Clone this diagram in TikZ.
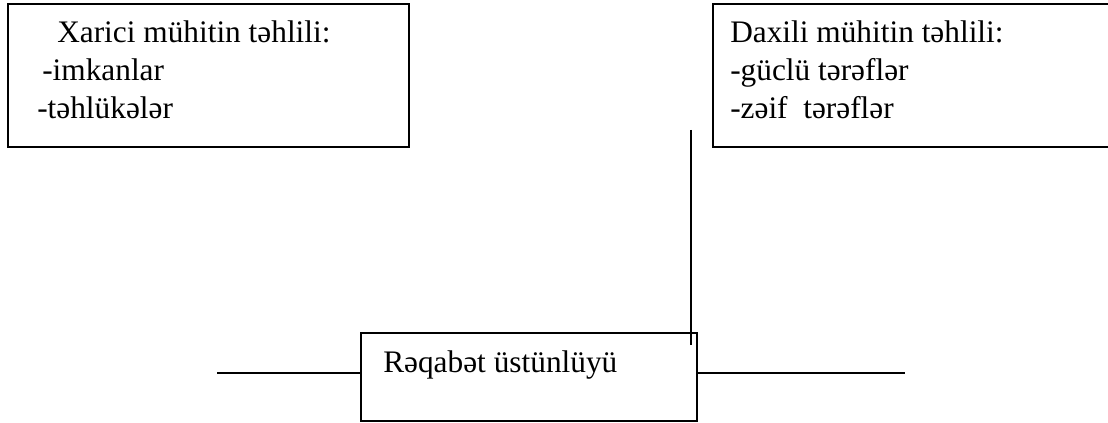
\documentclass[tikz,border=0pt]{standalone}
\usepackage{fontspec}
\setmainfont{Liberation Serif}
\begin{document}
\begin{tikzpicture}[x=0.75pt,y=-0.75pt,
  box/.style={draw,line width=1.3pt,rectangle,inner sep=0pt},
  lbl/.style={anchor=base west,inner sep=0pt,font=\fontsize{23.5}{28}\selectfont},
  conn/.style={line width=1.3pt}]
\useasboundingbox (0,0) rectangle (1108,423);
% boxes
\node[box,minimum width=300.75pt,minimum height=107.25pt] (ext) at (208.5,75.5) {};
\node[box,minimum width=300.75pt,minimum height=107.25pt] (int) at (913.5,75.5) {};
\node[box,minimum width=252pt,minimum height=66pt] (adv) at (529,377) {};
% texts
\node[lbl] (e1) at (57,43) {Xarici mühitin təhlili:};
\node[lbl] (e2) at (42,81) {-imkanlar};
\node[lbl] (e3) at (37,119) {-təhlükələr};
\node[lbl] (i1) at (730,43) {Daxili mühitin təhlili:};
\node[lbl] (i2) at (730,81) {-güclü tərəflər};
\node[lbl] (i3) at (730,119) {-zəif\ \ tərəflər};
\node[lbl] (a1) at (383,373) {Rəqabət üstünlüyü};
% connectors
\coordinate (L) at (217,373);
\coordinate (R) at (905,373);
\coordinate (V1) at (691,130);
\coordinate (V2) at (691,345);
\draw[conn] (L) -- (L -| adv.west);
\draw[conn] (R -| adv.east) -- (R);
\draw[conn] (V1) -- (V2);
\end{tikzpicture}
\end{document}
